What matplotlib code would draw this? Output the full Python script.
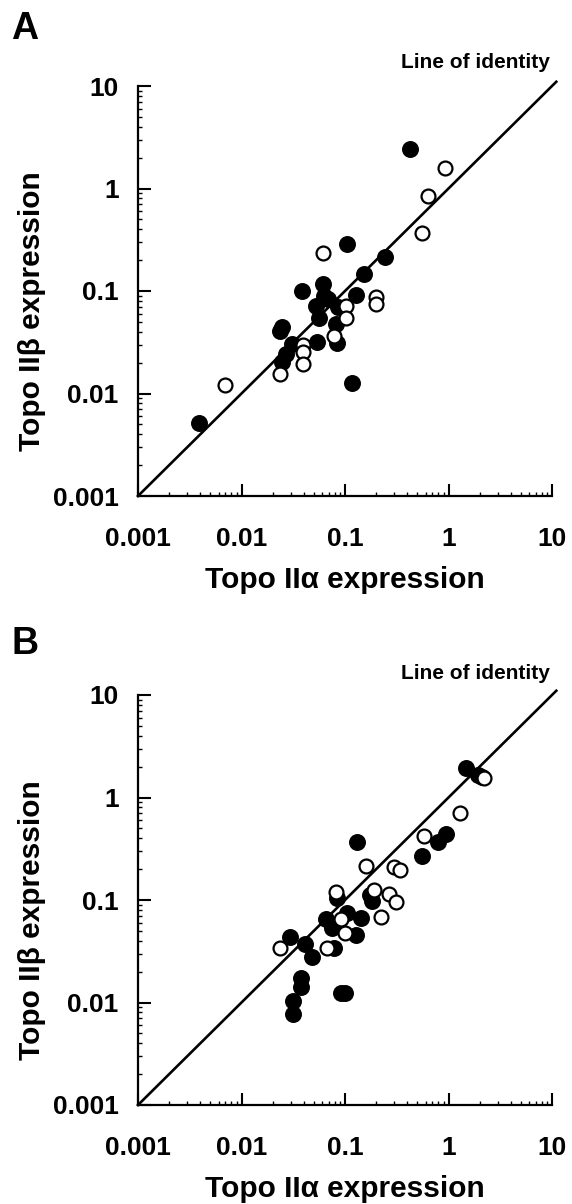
import matplotlib
matplotlib.use("Agg")
import matplotlib.pyplot as plt
from matplotlib.ticker import LogLocator, NullFormatter

plt.rcParams['font.family'] = ['Liberation Sans', 'DejaVu Sans']
plt.rcParams['font.weight'] = 'bold'

# ---- data ----
tick_values = [0.001, 0.01, 0.1, 1, 10]
tick_labels = ['0.001', '0.01', '0.1', '1', '10']
identity = [0.001, 11]

a_filled_x = [0.0039, 0.42, 0.104, 0.244, 0.154, 0.127, 0.038, 0.0616, 0.053, 0.069,
              0.086, 0.056, 0.082, 0.083, 0.054, 0.0244, 0.0235, 0.0305, 0.0272, 0.0244,
              0.118, 0.062]
a_filled_y = [0.0051, 2.42, 0.29, 0.215, 0.148, 0.091, 0.100, 0.116, 0.072, 0.084,
              0.070, 0.055, 0.048, 0.031, 0.032, 0.045, 0.041, 0.0305, 0.0244, 0.0202,
              0.0127, 0.090]
a_open_x = [0.93, 0.63, 0.55, 0.0616, 0.20, 0.20, 0.102, 0.102, 0.078, 0.0396,
            0.0396, 0.0396, 0.0235, 0.0069]
a_open_y = [1.59, 0.85, 0.37, 0.237, 0.087, 0.074, 0.071, 0.055, 0.036, 0.0295,
            0.0254, 0.0192, 0.0156, 0.012]

b_filled_x = [1.48, 1.93, 2.10, 0.95, 0.79, 0.55, 0.13, 0.175, 0.184, 0.084,
              0.065, 0.075, 0.105, 0.142, 0.127, 0.0297, 0.041, 0.048, 0.0377, 0.0377,
              0.0315, 0.0315, 0.091, 0.101, 0.079]
b_filled_y = [1.93, 1.66, 1.60, 0.44, 0.37, 0.27, 0.37, 0.113, 0.097, 0.105,
              0.065, 0.053, 0.075, 0.067, 0.046, 0.0437, 0.037, 0.0279, 0.0174, 0.0142,
              0.0103, 0.0078, 0.0124, 0.0124, 0.034]
b_open_x = [2.2, 1.3, 0.575, 0.159, 0.30, 0.342, 0.19, 0.267, 0.31, 0.222,
            0.081, 0.091, 0.101, 0.067, 0.0237]
b_open_y = [1.54, 0.71, 0.42, 0.213, 0.21, 0.195, 0.126, 0.115, 0.095, 0.068,
            0.121, 0.065, 0.048, 0.034, 0.034]

xlabel = 'Topo II\u03b1 expression'
ylabel = 'Topo II\u03b2 expression'
identity_text = 'Line of identity'

W, H = 572, 1204
fig = plt.figure(figsize=(W / 100, H / 100), dpi=100)


def make_panel(rect, fx, fy, ox, oy):
    ax = fig.add_axes(rect)
    ax.set_xscale('log')
    ax.set_yscale('log')
    ax.set_xlim(0.001, 10)
    ax.set_ylim(0.001, 10)
    ax.plot(identity, identity, color='black', lw=1.9, clip_on=False, zorder=2)
    ax.plot(fx, fy, 'o', ms=11, mfc='black', mec='black', mew=1.2, zorder=3, clip_on=False)
    ax.plot(ox, oy, 'o', ms=10, mfc='white', mec='black', mew=1.6, zorder=4, clip_on=False)
    for s in ['top', 'right']:
        ax.spines[s].set_visible(False)
    for s in ['left', 'bottom']:
        ax.spines[s].set_linewidth(1.6)
    ax.set_xticks(tick_values)
    ax.set_xticklabels(tick_labels)
    ax.set_yticks(tick_values)
    ax.set_yticklabels(tick_labels)
    ax.xaxis.set_minor_locator(LogLocator(base=10, subs=range(2, 10), numticks=20))
    ax.yaxis.set_minor_locator(LogLocator(base=10, subs=range(2, 10), numticks=20))
    ax.xaxis.set_minor_formatter(NullFormatter())
    ax.yaxis.set_minor_formatter(NullFormatter())
    ax.tick_params(which='major', direction='in', length=9, width=1.5, labelsize=19)
    ax.tick_params(which='minor', direction='in', length=3, width=1.0)
    ax.tick_params(axis='x', which='major', pad=22)
    ax.tick_params(axis='y', which='major', pad=14)
    for lab in ax.get_xticklabels() + ax.get_yticklabels():
        lab.set_fontweight('bold')
    ax.set_xlabel(xlabel, fontsize=21.5, fontweight='bold', va='center')
    ax.xaxis.set_label_coords(0.5, -0.205)
    ax.set_ylabel(ylabel, fontsize=21.5, fontweight='bold', va='center')
    ax.yaxis.set_label_coords(-0.256, 0.45)
    return ax


axA = make_panel([138 / W, 1 - 496 / H, 414 / W, 410 / H], a_filled_x, a_filled_y, a_open_x, a_open_y)
axB = make_panel([138 / W, 1 - 1105 / H, 414 / W, 410 / H], b_filled_x, b_filled_y, b_open_x, b_open_y)

fig.text(25 / W, 1 - 29 / H, 'A', fontsize=27, fontweight='bold', ha='center', va='center')
fig.text(25 / W, 1 - 644 / H, 'B', fontsize=27, fontweight='bold', ha='center', va='center')
fig.text(550 / W, 1 - 63 / H, identity_text, fontsize=15, fontweight='bold', ha='right', va='center')
fig.text(550 / W, 1 - 674 / H, identity_text, fontsize=15, fontweight='bold', ha='right', va='center')

fig.savefig('out.png', dpi=100)
